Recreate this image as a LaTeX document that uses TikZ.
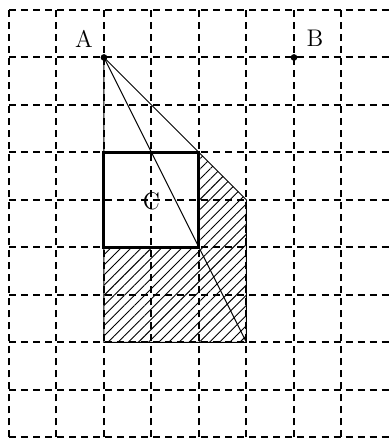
\documentclass[tikz,border=0pt]{standalone}
\usetikzlibrary{patterns.meta}
\tikzset{
  gridline/.style={line width=1.2pt, dash pattern=on 4.2pt off 3pt},
  thinline/.style={line width=0.6pt},
  boldsq/.style={line width=1.8pt},
  hatch/.style={pattern={Lines[angle=45,distance=4.3pt,line width=0.55pt]}},
  ptlabel/.style={font=\Large, inner sep=0pt},
  dotpt/.style={circle, fill=black, inner sep=0pt, minimum size=4pt}
}
\begin{document}
\begin{tikzpicture}[x=1cm,y=1cm]
\useasboundingbox (-0.189,-0.053) rectangle (8.0,9.21);
% named points
\coordinate (P46) at (4,6);
\coordinate (P55) at (5,5);
\coordinate (P52) at (5,2);
\coordinate (P22) at (2,2);
\coordinate (P24) at (2,4);
\coordinate (P44) at (4,4);
% hatched region
\fill[hatch] (P46) -- (P55) -- (P52) -- (P22) -- (P24) -- (P44) -- cycle;
% grid
\foreach \i in {0,...,9} \draw[gridline] (0,\i) -- (8,\i);
\foreach \i in {0,...,7} \draw[gridline] (\i,0) -- (\i,9);
% points
\node[dotpt] (A) at (2,8) {};
\node[dotpt] (B) at (6,8) {};
\node[ptlabel] (Alab) at (1.58,8.4) {A};
\node[ptlabel] (Blab) at (6.44,8.4) {B};
% outline
\draw[thinline] (A.center) -- (P46) -- (P55) -- (P52) -- (P22) -- (A.center);
\draw[thinline] (A.center) -- (P52);
% bold square
\draw[boldsq] (P24) rectangle (P46);
\node[ptlabel] (C) at (3,4.97) {C};
\end{tikzpicture}
\end{document}
